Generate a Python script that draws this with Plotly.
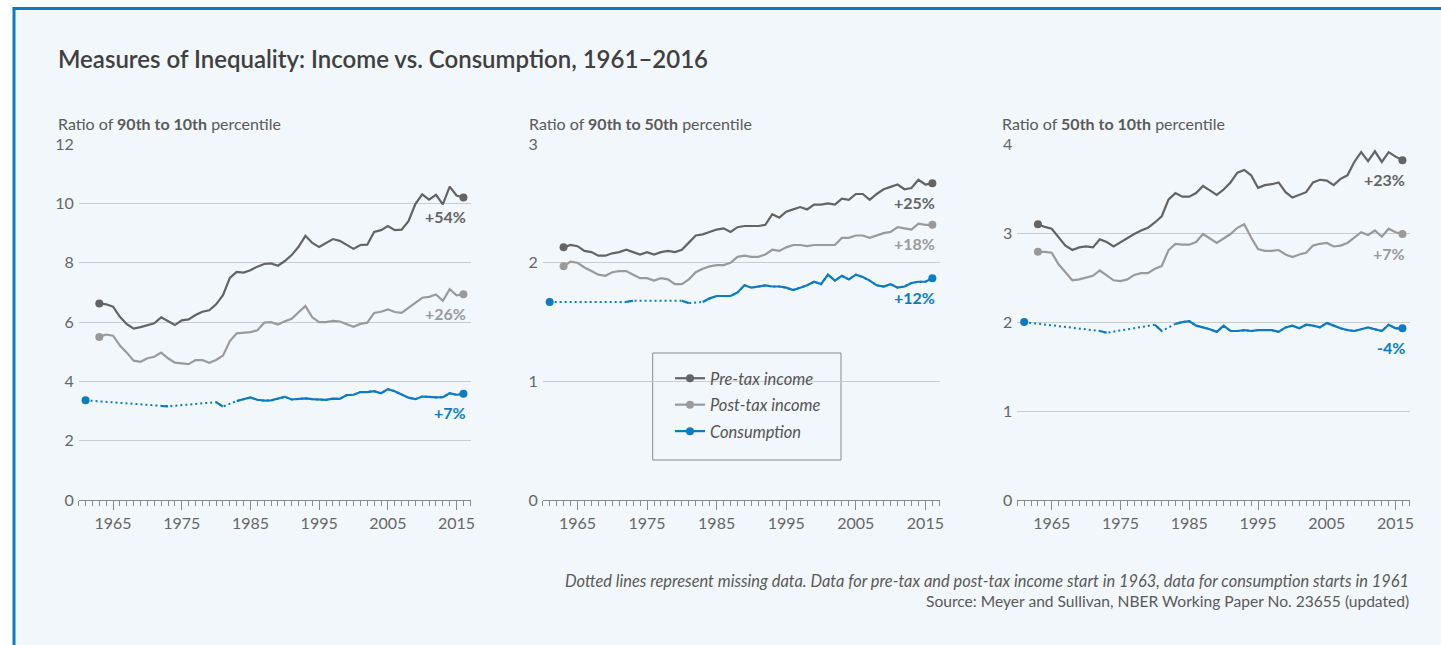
import plotly.graph_objects as go

# ---------------- data ----------------
income_years = list(range(1963, 2017))
cons_years = [1961, 1972, 1973, 1980, 1981] + list(range(1983, 2017))

# Panel 1: 90/10
p1_pre = [6.63, 6.60, 6.52, 6.18, 5.93, 5.78, 5.83, 5.90, 5.96, 6.16,
          6.04, 5.90, 6.06, 6.09, 6.24, 6.35, 6.40, 6.60, 6.91, 7.49,
          7.69, 7.67, 7.75, 7.87, 7.96, 7.98, 7.90, 8.06, 8.26, 8.54,
          8.91, 8.67, 8.53, 8.67, 8.80, 8.74, 8.61, 8.47, 8.60, 8.61,
          9.04, 9.10, 9.24, 9.10, 9.12, 9.40, 9.98, 10.31, 10.13, 10.29,
          9.97, 10.57, 10.27, 10.20]
p1_post = [5.50, 5.58, 5.54, 5.21, 4.97, 4.70, 4.66, 4.78, 4.83, 4.97,
           4.78, 4.63, 4.61, 4.58, 4.72, 4.72, 4.63, 4.72, 4.87, 5.36,
           5.62, 5.63, 5.66, 5.72, 5.98, 6.00, 5.92, 6.03, 6.11, 6.33,
           6.54, 6.16, 6.00, 6.00, 6.04, 6.02, 5.94, 5.84, 5.94, 5.98,
           6.31, 6.35, 6.43, 6.34, 6.31, 6.48, 6.67, 6.82, 6.85, 6.93,
           6.72, 7.11, 6.90, 6.94]
p1_cons = [3.36, 3.17, 3.16, 3.30, 3.15,
           3.34, 3.40, 3.46, 3.38, 3.35, 3.36, 3.42, 3.48, 3.39, 3.42,
           3.43, 3.40, 3.39, 3.38, 3.42, 3.41, 3.54, 3.55, 3.64, 3.64,
           3.67, 3.60, 3.74, 3.67, 3.56, 3.45, 3.40, 3.49, 3.48, 3.46,
           3.47, 3.60, 3.55, 3.58]

# Panel 2: 90/50
p2_pre = [2.13, 2.15, 2.14, 2.10, 2.09, 2.06, 2.06, 2.08, 2.09, 2.11,
          2.09, 2.07, 2.09, 2.07, 2.09, 2.10, 2.09, 2.11, 2.17, 2.23,
          2.24, 2.26, 2.28, 2.29, 2.26, 2.30, 2.31, 2.31, 2.31, 2.32,
          2.41, 2.38, 2.43, 2.45, 2.47, 2.45, 2.49, 2.49, 2.50, 2.49,
          2.54, 2.53, 2.58, 2.58, 2.53, 2.58, 2.62, 2.64, 2.66, 2.62,
          2.63, 2.70, 2.66, 2.67]
p2_post = [1.97, 2.01, 2.00, 1.96, 1.93, 1.90, 1.89, 1.92, 1.93, 1.93,
           1.90, 1.87, 1.87, 1.85, 1.87, 1.86, 1.82, 1.82, 1.86, 1.92,
           1.95, 1.97, 1.98, 1.98, 2.00, 2.05, 2.06, 2.05, 2.05, 2.07,
           2.11, 2.10, 2.13, 2.15, 2.15, 2.14, 2.15, 2.15, 2.15, 2.15,
           2.21, 2.21, 2.23, 2.23, 2.21, 2.23, 2.25, 2.26, 2.30, 2.29,
           2.28, 2.33, 2.32, 2.32]
p2_cons = [1.67, 1.67, 1.68, 1.68, 1.66,
           1.67, 1.70, 1.72, 1.72, 1.72, 1.75, 1.81, 1.79, 1.80, 1.81,
           1.80, 1.80, 1.79, 1.77, 1.79, 1.81, 1.84, 1.82, 1.90, 1.85,
           1.89, 1.86, 1.90, 1.88, 1.85, 1.81, 1.80, 1.82, 1.79, 1.80,
           1.83, 1.84, 1.84, 1.87]

# Panel 3: 50/10
p3_pre = [3.10, 3.07, 3.05, 2.95, 2.86, 2.81, 2.84, 2.85, 2.84, 2.93,
          2.90, 2.85, 2.90, 2.94, 2.99, 3.03, 3.06, 3.12, 3.19, 3.38,
          3.45, 3.41, 3.41, 3.45, 3.53, 3.48, 3.43, 3.49, 3.57, 3.68,
          3.71, 3.65, 3.51, 3.54, 3.55, 3.57, 3.46, 3.40, 3.43, 3.46,
          3.57, 3.60, 3.59, 3.54, 3.61, 3.65, 3.80, 3.91, 3.81, 3.92,
          3.80, 3.91, 3.86, 3.82]
p3_post = [2.79, 2.79, 2.78, 2.65, 2.56, 2.47, 2.48, 2.50, 2.52, 2.58,
           2.52, 2.47, 2.46, 2.48, 2.53, 2.55, 2.55, 2.60, 2.63, 2.81,
           2.88, 2.87, 2.87, 2.90, 2.99, 2.94, 2.89, 2.94, 2.99, 3.06,
           3.10, 2.95, 2.82, 2.80, 2.80, 2.81, 2.76, 2.73, 2.76, 2.78,
           2.86, 2.88, 2.89, 2.85, 2.86, 2.89, 2.95, 3.01, 2.98, 3.03,
           2.96, 3.05, 3.01, 2.99]
p3_cons = [2.00, 1.90, 1.88, 1.97, 1.90,
           1.98, 2.00, 2.01, 1.96, 1.94, 1.92, 1.89, 1.96, 1.90, 1.90,
           1.91, 1.90, 1.91, 1.91, 1.91, 1.89, 1.94, 1.96, 1.93, 1.97,
           1.96, 1.94, 1.99, 1.96, 1.93, 1.91, 1.90, 1.92, 1.94, 1.92,
           1.90, 1.97, 1.93, 1.93]

panel_titles = ["Ratio of <b>90th to 10th</b> percentile",
                "Ratio of <b>90th to 50th</b> percentile",
                "Ratio of <b>50th to 10th</b> percentile"]
y_max = [12, 3, 4]
y_dtick = [2, 1, 1]
labels_pre = ["+54%", "+25%", "+23%"]
labels_post = ["+26%", "+18%", "+7%"]
labels_cons = ["+7%", "+12%", "-4%"]
series_names = ["Pre-tax income", "Post-tax income", "Consumption"]

title_text = "Measures of Inequality: Income vs. Consumption, 1961\u20132016"
note_text = ("Dotted lines represent missing data. Data for pre-tax and post-tax income "
             "start in 1963, data for consumption starts in 1961")
source_text = "Source: Meyer and Sullivan, NBER Working Paper No. 23655 (updated)"

# ---------------- style ----------------
W, H = 1441, 645
FONT = "Lato"
C_PRE = "#646464"
C_POST = "#9a9a9a"
C_CONS = "#0b7cc3"
BG = "#f2f7fb"
TXT = "#5a5a5a"


def px_x(p):
    return p / W


def px_y(p):
    return 1 - p / H


x_domains = [(78.7, 471.0), (542.7, 940.0), (1017.3, 1410.0)]
y_domain = [px_y(500), px_y(144)]
sub_x = [56, 527, 1000]

panels = [(p1_pre, p1_post, p1_cons), (p2_pre, p2_post, p2_cons), (p3_pre, p3_post, p3_cons)]

fig = go.Figure()
annotations = []

all_years = list(range(1961, 2017))

for i, (pre, post, cons) in enumerate(panels):
    xa = "x" if i == 0 else f"x{i+1}"
    ya = "y" if i == 0 else f"y{i+1}"
    cmap = dict(zip(cons_years, cons))
    cons_full = [cmap.get(yr) for yr in all_years]

    # dotted (connect gaps) consumption underneath
    fig.add_trace(go.Scatter(x=cons_years, y=cons, mode="lines", xaxis=xa, yaxis=ya,
                             line=dict(color=C_CONS, width=2, dash="2px,3px"),
                             showlegend=False, hoverinfo="skip"))
    for vals, yrs, col in [(pre, income_years, C_PRE), (post, income_years, C_POST),
                           (cons_full, all_years, C_CONS)]:
        fig.add_trace(go.Scatter(x=yrs, y=vals, mode="lines", xaxis=xa, yaxis=ya,
                                 line=dict(color=col, width=2.2), connectgaps=False,
                                 showlegend=False))
    for vals, yrs, col in [(pre, income_years, C_PRE), (post, income_years, C_POST),
                           (cons, cons_years, C_CONS)]:
        fig.add_trace(go.Scatter(x=[yrs[0], yrs[-1]], y=[vals[0], vals[-1]], mode="markers",
                                 xaxis=xa, yaxis=ya, marker=dict(color=col, size=8),
                                 showlegend=False))

    for vals, yrs, col, lab in [(pre, income_years, C_PRE, labels_pre[i]),
                                (post, income_years, C_POST, labels_post[i]),
                                (cons, cons_years, C_CONS, labels_cons[i])]:
        annotations.append(dict(x=yrs[-1], y=vals[-1], xref=xa, yref=ya, text=f"<b>{lab}</b>",
                                showarrow=False, xanchor="right", yanchor="middle",
                                xshift=5, yshift=-19,
                                font=dict(family=FONT, size=16, color=col)))

    annotations.append(dict(x=px_x(sub_x[i]), y=px_y(124), xref="paper", yref="paper",
                            text=panel_titles[i], showarrow=False, xanchor="left",
                            yanchor="middle", font=dict(family=FONT, size=16, color=TXT)))

    axis_common = dict(domain=[px_x(x_domains[i][0]), px_x(x_domains[i][1])],
                       range=[1960, 2017.1], tickmode="linear", tick0=1965, dtick=10,
                       ticks="outside", ticklen=9, tickcolor="#8a8a8a", tickwidth=1,
                       showline=True, linecolor="#8a8a8a", linewidth=1,
                       showgrid=False, zeroline=False, anchor=ya, automargin=False,
                       tickfont=dict(family=FONT, size=16, color="#666666"),
                       minor=dict(ticks="outside", ticklen=5, tick0=1961, dtick=1,
                                  tickcolor="#8a8a8a", showgrid=False))
    yaxis_common = dict(domain=y_domain, range=[0, y_max[i] * 1.0005], tickmode="linear",
                        tick0=0, dtick=y_dtick[i], showgrid=True, gridcolor="#c9ccd0",
                        gridwidth=1, zeroline=False, showline=False, ticks="",
                        anchor=xa, automargin=False, ticklabelstandoff=4,
                        tickfont=dict(family=FONT, size=16, color="#666666"))
    key = "" if i == 0 else str(i + 1)
    fig.layout["xaxis" + key] = axis_common
    fig.layout["yaxis" + key] = yaxis_common

# legend entries (no data drawn)
for name, col in zip(series_names, [C_PRE, C_POST, C_CONS]):
    fig.add_trace(go.Scatter(x=[None], y=[None], mode="lines+markers", name=name,
                             legendgroup=name,
                             line=dict(color=col, width=2.2), marker=dict(color=col, size=8),
                             xaxis="x2", yaxis="y2", showlegend=True))

annotations.append(dict(x=px_x(56), y=px_y(58), xref="paper", yref="paper", text=title_text,
                        showarrow=False, xanchor="left", yanchor="middle",
                        font=dict(family=FONT, size=24, color="#404040", weight=600)))
annotations.append(dict(x=px_x(1411), y=px_y(580), xref="paper", yref="paper", text=note_text,
                        showarrow=False, xanchor="right", yanchor="middle",
                        font=dict(family=FONT, size=16.4, color=TXT, style="italic")))
annotations.append(dict(x=px_x(1411), y=px_y(601), xref="paper", yref="paper", text=source_text,
                        showarrow=False, xanchor="right", yanchor="middle",
                        font=dict(family=FONT, size=15.6, color=TXT)))

shapes = [
    dict(type="rect", xref="paper", yref="paper", x0=px_x(14), y0=-0.05, x1=1.05, y1=px_y(8.5),
         line=dict(color="#0b7cc3", width=3), fillcolor=BG, layer="below"),
    dict(type="rect", xref="paper", yref="paper", x0=px_x(652.7), y0=px_y(460), x1=px_x(841),
         y1=px_y(353), line=dict(color="#8a8a8a", width=1), fillcolor=BG, layer="below"),
]

fig.update_layout(
    width=W, height=H,
    margin=dict(l=0, r=0, t=0, b=0, pad=0, autoexpand=False),
    paper_bgcolor="white",
    plot_bgcolor="rgba(0,0,0,0)",
    font=dict(family=FONT, color=TXT),
    annotations=annotations,
    shapes=shapes,
    showlegend=True,
    legend=dict(x=px_x(670), y=px_y(361), xanchor="left", yanchor="top",
                bgcolor="rgba(0,0,0,0)", borderwidth=0, traceorder="grouped",
                font=dict(family=FONT, size=16.5, color="#555555", style="italic"),
                itemclick=False, itemdoubleclick=False, tracegroupgap=2),
    hovermode=False,
)

fig.write_html("out.html", config={"displayModeBar": False},
               post_script="document.body.style.margin='0px';"
                           "document.documentElement.style.overflow='hidden';")
